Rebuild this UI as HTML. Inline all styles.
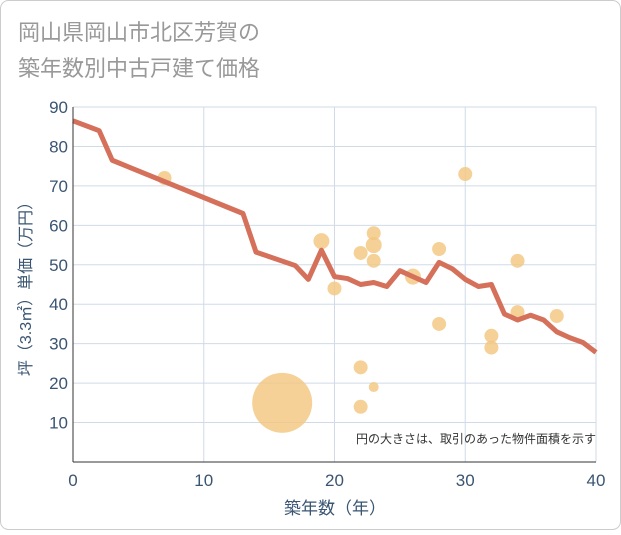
<!DOCTYPE html>
<html><head><meta charset="utf-8"><style>
body{margin:0;background:#fff;}
svg text{font-family:"Liberation Sans","Noto Sans CJK JP",sans-serif;}
</style></head><body>
<svg width="621" height="530" xmlns="http://www.w3.org/2000/svg">
<rect x="0.5" y="0.5" width="620" height="529" rx="8" fill="#fff" stroke="#ccc"/>
<text x="18" y="40" font-size="22" fill="#999">岡山県岡山市北区芳賀の</text>
<text x="18" y="76" font-size="22" fill="#999">築年数別中古戸建て価格</text>
<g id="grid"></g>
<g id="bubbles"></g>
<g id="line"></g>
<g id="axes"></g>
<text x="596" y="443" font-size="12" fill="#333" text-anchor="end">円の大きさは、取引のあった物件面積を示す</text>
<text x="335" y="514" font-size="17" fill="#3a5572" text-anchor="middle">築年数（年）</text>
<text transform="translate(31,285) rotate(-90)" font-size="16" fill="#3a5572" text-anchor="middle">坪（3.3㎡）単価（万円）</text>
</svg>
<script>
const xTicks=[0,10,20,30,40];
const yTicks=[10,20,30,40,50,60,70,80,90];
const lineAges=[0,2,3,13,14,17,18,19,20,21,22,23,24,25,26,27,28,29,30,31,32,33,34,35,36,37,38,39,40];
const lineVals=[86.5,84,76.5,63,53.2,49.8,46.3,53.7,47,46.5,45,45.5,44.5,48.5,47,45.5,50.6,49,46.3,44.5,45,37.5,36,37.2,36,33,31.5,30.3,27.8];
const bubAges=[16,7,19,20,22,22,22,23,23,23,23,26,28,28,30,32,32,34,34,37];
const bubVals=[15,72,56,44,53,24,14,58,55,51,19,47,54,35,73,32,29,51,38,37];
const bubSizes=[30,7,8,7,7,7,7,7,8,7,5,8,7,7,7,7,7,7,7,7];
const X0=73,X1=596,Y0=462,Y90=107;
const xs=v=>X0+(X1-X0)*v/40;
const ys=v=>Y0-(Y0-Y90)*v/90;
const NS="http://www.w3.org/2000/svg";
function mk(t,a,p){const e=document.createElementNS(NS,t);for(const k in a)e.setAttribute(k,a[k]);p.appendChild(e);return e;}
const g=document.getElementById('grid'),ax=document.getElementById('axes');
for(const v of xTicks){
 const l=mk('line',{x1:xs(v),x2:xs(v),y1:Y90,y2:Y0,stroke:'#d0dbe8'},g);
 
 
 const t=mk('text',{x:xs(v),y:Y0+24,'font-size':17,fill:'#3a5572','text-anchor':'middle'},ax);
 t.textContent=v;
 
 
}
for(const v of yTicks){
 const l=mk('line',{x1:X0,x2:X1,y1:ys(v),y2:ys(v),stroke:'#d0dbe8'},g);
 
 
 const t=mk('text',{x:X0-5,y:ys(v)+6,'font-size':17,fill:'#3a5572','text-anchor':'end'},ax);
 t.textContent=v;
 
 
}
const a1=mk('line',{x1:X0,x2:X0,y1:Y90,y2:Y0,stroke:'#333'},ax);


const a2=mk('line',{x1:X0,x2:X1,y1:Y0,y2:Y0,stroke:'#333'},ax);


const b=document.getElementById('bubbles');
bubAges.forEach((a,i)=>{
 const c=mk('circle',{cx:xs(a),cy:ys(bubVals[i]),r:bubSizes[i],fill:'#f3c57e','fill-opacity':0.8},b);
 
 
});
const pts=lineAges.map((a,i)=>xs(a)+','+ys(lineVals[i])).join(' ');
const pl=mk('polyline',{points:pts,fill:'none',stroke:'#d5705a','stroke-width':5,'stroke-linejoin':'round'},document.getElementById('line'));


</script>
</body></html>
